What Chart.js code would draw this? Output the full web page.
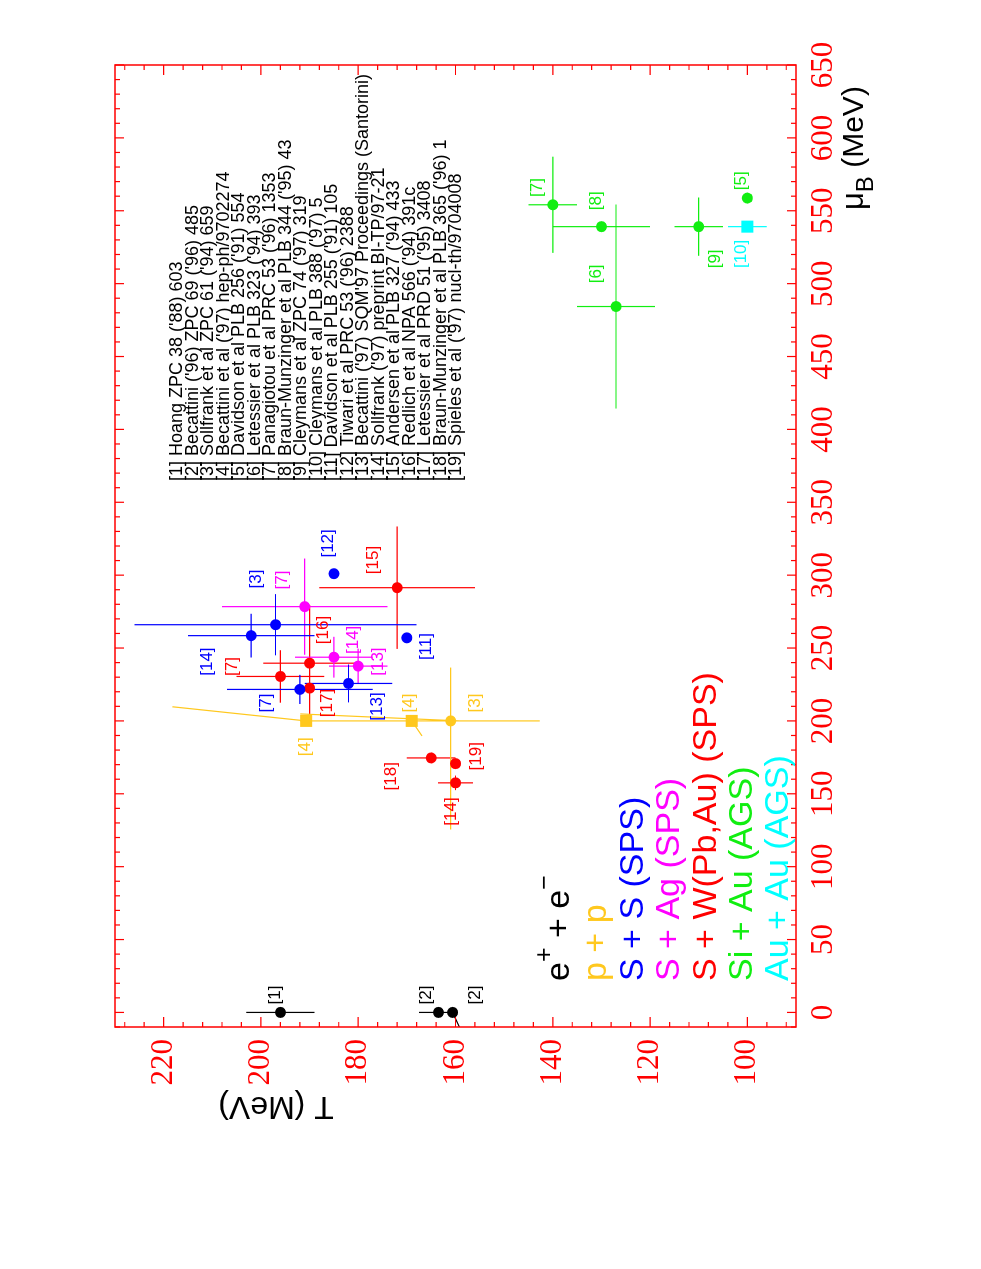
<!DOCTYPE html>
<html>
<head>
<meta charset="utf-8">
<script src="https://cdn.jsdelivr.net/npm/chart.js@4.4.0/dist/chart.umd.min.js"></script>
<style>
html, body { margin: 0; padding: 0; background: #fff; overflow: hidden; }
#wrap { position: absolute; left: 0; top: 0; width: 1269px; height: 981px;
        transform-origin: 0 0; transform: translate(0, 1269px) rotate(-90deg); }
</style>
</head>
<body>
<div id="wrap"><canvas id="chart" width="1269" height="981"></canvas></div>
<script>
// axis ticks
const muTicks = [0, 50, 100, 150, 200, 250, 300, 350, 400, 450, 500, 550, 600, 650];
const tTicks = [100, 120, 140, 160, 180, 200, 220];

// points: [ref, muB, T, dMuB, dT]
const eePoints = [['[1]', 0, 196, 0, 7], ['[2]', 0, 163.5, 0, 4], ['[2]', 0, 160.6, 0, 0]];
const ppPoints = [['[3]', 200, 161, 0, 0]];
const ppSquares = [['[4]', 200, 190.7, 0, 0], ['[4]', 200, 169, 0, 0]];
const ssPoints = [
    ['[12]', 301, 185, 0, 0],
    ['[11]', 257, 170, 0, 0],
    ['[3]', 266, 197, 21, 29],
    ['[14]', 258.5, 202, 15, 13],
    ['[13]', 225.7, 182, 13, 9],
    ['[7]', 221.6, 192, 10, 15]
];
const sagPoints = [
    ['[7]', 278.4, 191, 33, 17],
    ['[14]', 243.7, 185, 14, 8],
    ['[13]', 237.6, 180, 12, 6]
];
const swPoints = [
    ['[15]', 291.4, 172, 42, 16],
    ['[16]', 239.6, 190, 40, 9.5],
    ['[17]', 222.5, 190, 0, 0],
    ['[7]', 230.5, 196, 18, 9],
    ['[18]', 174.6, 165, 3, 5],
    ['[19]', 170.7, 160, 0, 0],
    ['[14]', 157.5, 160, 5, 3.6]
];
const siaPoints = [
    ['[7]', 554.1, 140, 33, 5],
    ['[8]', 539.1, 130, 0, 10],
    ['[6]', 484.3, 127, 70, 8],
    ['[9]', 539.1, 110, 20, 5],
    ['[5]', 558.7, 100, 0, 0]
];
const auSquares = [['[10]', 539.1, 100, 0, 4]];

// extra (skewed / asymmetric) error strokes: [[muB, T], [muB, T]]
const eeBars = [[[0, 160.6], [-13, 158.8]]];
const ppBars = [
    [[200, 191.9], [200, 142.7]],
    [[236.6, 161], [125.5, 161]],
    [[209.7, 218.2], [200, 190.7]],
    [[204.8, 191.9], [200, 159.1]],
    [[200, 169], [189.7, 166.9]]
];

// reference tags next to the points: [text, muB, T]
const eeTags = [['[1]', 12, 197], ['[2]', 12, 165.9], ['[2]', 12, 155.9]];
const ppTags = [['[4]', 212.3, 169.4], ['[3]', 212.3, 156], ['[4]', 182.3, 190.9]];
const ssTags = [['[12]', 321.8, 186.1], ['[3]', 297.4, 200.9], ['[11]', 251, 165.9],
    ['[14]', 240.7, 211], ['[7]', 212.3, 198.9], ['[13]', 209.9, 176.1]];
const sagTags = [['[7]', 296.7, 195.7], ['[14]', 255.6, 181], ['[13]', 240.7, 175.9]];
const swTags = [['[15]', 310.4, 176.9], ['[16]', 262.4, 187.1], ['[7]', 237.3, 205.9],
    ['[17]', 212.3, 186.4], ['[19]', 175.7, 155.8], ['[18]', 162, 173.1], ['[14]', 137.8, 160.8]];
const siaTags = [['[7]', 566, 143.1], ['[8]', 556.9, 131.1], ['[6]', 506.7, 131.1],
    ['[9]', 517, 106.5], ['[5]', 570.6, 101.2]];
const auTags = [['[10]', 520.4, 101.2]];

const systems = ['e', 'p + p', 'S + S (SPS)', 'S + Ag (SPS)', 'S + W(Pb,Au) (SPS)', 'Si + Au (AGS)', 'Au + Au (AGS)'];

const references = [
    "[1] Hoang ZPC 38 ('88) 603",
    "[2] Becattini ('96) ZPC 69 ('96) 485",
    "[3] Sollfrank et al ZPC 61 ('94) 659",
    "[4] Becattini et al ('97) hep-ph/9702274",
    "[5] Davidson et al PLB 256 ('91) 554",
    "[6] Letessier et al PLB 323 ('94) 393",
    "[7] Panagiotou et al PRC 53 ('96) 1353",
    "[8] Braun-Munzinger et al PLB 344 ('95) 43",
    "[9] Cleymans et al ZPC 74 ('97) 319",
    "[10] Cleymans et al PLB 388 ('97) 5",
    "[11] Davidson et al PLB 255 ('91) 105",
    "[12] Tiwari et al PRC 53 ('96) 2388",
    "[13] Becattini ('97) SQM'97 Proceedings (Santorini)",
    "[14] Sollfrank ('97) preprint BI-TP/97-21",
    "[15] Andersen et al PLB 327 ('94) 433",
    "[16] Redlich et al NPA 566 ('94) 391c",
    "[17] Letessier et al PRD 51 ('95) 3408",
    "[18] Braun-Munzinger et al PLB 365 ('96) 1",
    "[19] Spieles et al ('97) nucl-th/9704008"
];

const BLACK = '#000000', YELLOW = '#ffc81e', BLUE = '#0000ff', MAGENTA = '#ff00ff',
      RED = '#ff0000', GREEN = '#11ee11', CYAN = '#00ffff';
const SANS = '"Liberation Sans", Arial, sans-serif';
const SERIF = '"Liberation Serif", "Times New Roman", serif';

function toXY(points) {
    return points.map(p => ({ x: p[1], y: p[2] }));
}

function barData(points, extra) {
    const d = [];
    for (const p of points) {
        if (p[4] > 0) {
            d.push({ x: p[1], y: p[2] - p[4] }, { x: p[1], y: p[2] + p[4] }, { x: p[1], y: null });
        }
        if (p[3] > 0) {
            d.push({ x: p[1] - p[3], y: p[2] }, { x: p[1] + p[3], y: p[2] }, { x: p[1], y: null });
        }
    }
    for (const s of (extra || [])) {
        d.push({ x: s[0][0], y: s[0][1] }, { x: s[1][0], y: s[1][1] }, { x: s[1][0], y: null });
    }
    return d;
}

function markers(points, color, style) {
    return {
        data: toXY(points), order: 0,
        pointStyle: style || 'circle',
        pointRadius: style === 'rect' ? 8.5 : 5.5,
        backgroundColor: color, borderColor: color, borderWidth: 0,
        showLine: false
    };
}

function bars(points, color, extra) {
    return {
        data: barData(points, extra), order: 1,
        showLine: true, spanGaps: false, pointRadius: 0,
        borderColor: color, borderWidth: 1.2, fill: false
    };
}

const tagGroups = [[eeTags, BLACK], [ppTags, YELLOW], [ssTags, BLUE], [sagTags, MAGENTA],
    [swTags, RED], [siaTags, GREEN], [auTags, CYAN]];
const legendColors = [BLACK, YELLOW, BLUE, MAGENTA, RED, GREEN, CYAN];

const decorations = {
    id: 'decorations',
    afterDraw(chart) {
        const { ctx, chartArea: a, scales: { x, y } } = chart;
        ctx.save();
        // frame and inward ticks
        ctx.strokeStyle = RED;
        ctx.lineWidth = 1.5;
        ctx.strokeRect(a.left, a.top, a.width, a.height);
        ctx.lineWidth = 1.2;
        ctx.beginPath();
        for (let m = -10; m <= 650; m += 10) {
            const px = x.getPixelForValue(m);
            const len = m % 50 === 0 ? 9 : 5;
            ctx.moveTo(px, a.bottom); ctx.lineTo(px, a.bottom - len);
            ctx.moveTo(px, a.top); ctx.lineTo(px, a.top + len);
        }
        for (let t = 92; t <= 228; t += 4) {
            const py = y.getPixelForValue(t);
            const len = t % 20 === 0 ? 10 : 5;
            ctx.moveTo(a.left, py); ctx.lineTo(a.left + len, py);
            ctx.moveTo(a.right, py); ctx.lineTo(a.right - len, py);
        }
        ctx.stroke();

        // tags beside points
        ctx.font = '17px ' + SANS;
        ctx.textAlign = 'center';
        ctx.textBaseline = 'middle';
        for (const [tags, color] of tagGroups) {
            ctx.fillStyle = color;
            for (const t of tags) {
                ctx.fillText(t[0], x.getPixelForValue(t[1]), y.getPixelForValue(t[2]));
            }
        }

        // system legend
        ctx.textAlign = 'left';
        ctx.textBaseline = 'alphabetic';
        const lx = 288;
        const lys = [569, 606, 643, 679, 716, 752, 788];
        systems.forEach((s, i) => {
            ctx.fillStyle = legendColors[i];
            if (i === 0) {
                let cx = lx;
                ctx.font = '34px ' + SANS;
                ctx.fillText('e', cx, lys[0]); cx += ctx.measureText('e').width;
                ctx.font = '25px ' + SANS;
                ctx.fillText('+', cx, lys[0] - 17); cx += ctx.measureText('+').width;
                ctx.font = '34px ' + SANS;
                ctx.fillText(' + e', cx, lys[0]); cx += ctx.measureText(' + e').width;
                ctx.font = '25px ' + SANS;
                ctx.fillText('\u2212', cx, lys[0] - 17);
            } else {
                ctx.font = '34px ' + SANS;
                ctx.fillText(s, lx, lys[i]);
            }
        });

        // reference list, its longest line reaching near the top frame
        ctx.fillStyle = BLACK;
        ctx.font = '18px ' + SANS;
        const listX = a.right - 9 - ctx.measureText(references[12]).width;
        references.forEach((r, i) => ctx.fillText(r, listX, 182 + i * 15.5));

        // axis titles
        ctx.font = '32px ' + SANS;
        ctx.save();
        ctx.translate(163, 276);
        ctx.rotate(-Math.PI / 2);
        ctx.textAlign = 'center';
        ctx.textBaseline = 'middle';
        ctx.fillText('T (MeV)', 0, 0);
        ctx.restore();

        let tx = 1059;
        ctx.font = '31px ' + SANS;
        ctx.fillText('\u03bc', tx, 863); tx += ctx.measureText('\u03bc').width;
        ctx.font = '24px ' + SANS;
        ctx.fillText('B', tx, 873); tx += ctx.measureText('B').width;
        ctx.font = '30px ' + SANS;
        ctx.fillText(' (MeV)', tx, 863);
        ctx.restore();
    }
};

new Chart(document.getElementById('chart').getContext('2d'), {
    type: 'scatter',
    data: {
        datasets: [
            markers(eePoints, BLACK),
            markers(ppPoints, YELLOW),
            markers(ppSquares, YELLOW, 'rect'),
            markers(ssPoints, BLUE),
            markers(sagPoints, MAGENTA),
            markers(swPoints, RED),
            markers(siaPoints, GREEN),
            markers(auSquares, CYAN, 'rect'),
            bars(eePoints, BLACK, eeBars),
            bars(ppPoints, YELLOW, ppBars),
            bars(ssPoints, BLUE),
            bars(sagPoints, MAGENTA),
            bars(swPoints, RED),
            bars(siaPoints, GREEN),
            bars(auSquares, CYAN)
        ]
    },
    options: {
        responsive: false,
        animation: false,
        devicePixelRatio: 1,
        layout: { padding: { left: 0, top: 115, right: 65, bottom: 0 } },
        plugins: { legend: { display: false }, tooltip: { enabled: false } },
        scales: {
            x: {
                type: 'linear', min: -10, max: 650,
                afterBuildTicks: (s) => { s.ticks = muTicks.map(v => ({ value: v })); },
                afterFit: (s) => { s.height = 185; },
                grid: { display: false, drawTicks: false },
                border: { display: false },
                ticks: { color: RED, font: { family: SERIF, size: 31 }, padding: 9, maxRotation: 0, autoSkip: false }
            },
            y: {
                type: 'linear', min: 90, max: 230,
                afterBuildTicks: (s) => { s.ticks = tTicks.map(v => ({ value: v })); },
                afterFit: (s) => { s.width = 242; },
                grid: { display: false, drawTicks: false },
                border: { display: false },
                ticks: { color: RED, font: { family: SERIF, size: 31 }, padding: 12, autoSkip: false }
            }
        }
    },
    plugins: [decorations]
});
</script>
</body>
</html>
